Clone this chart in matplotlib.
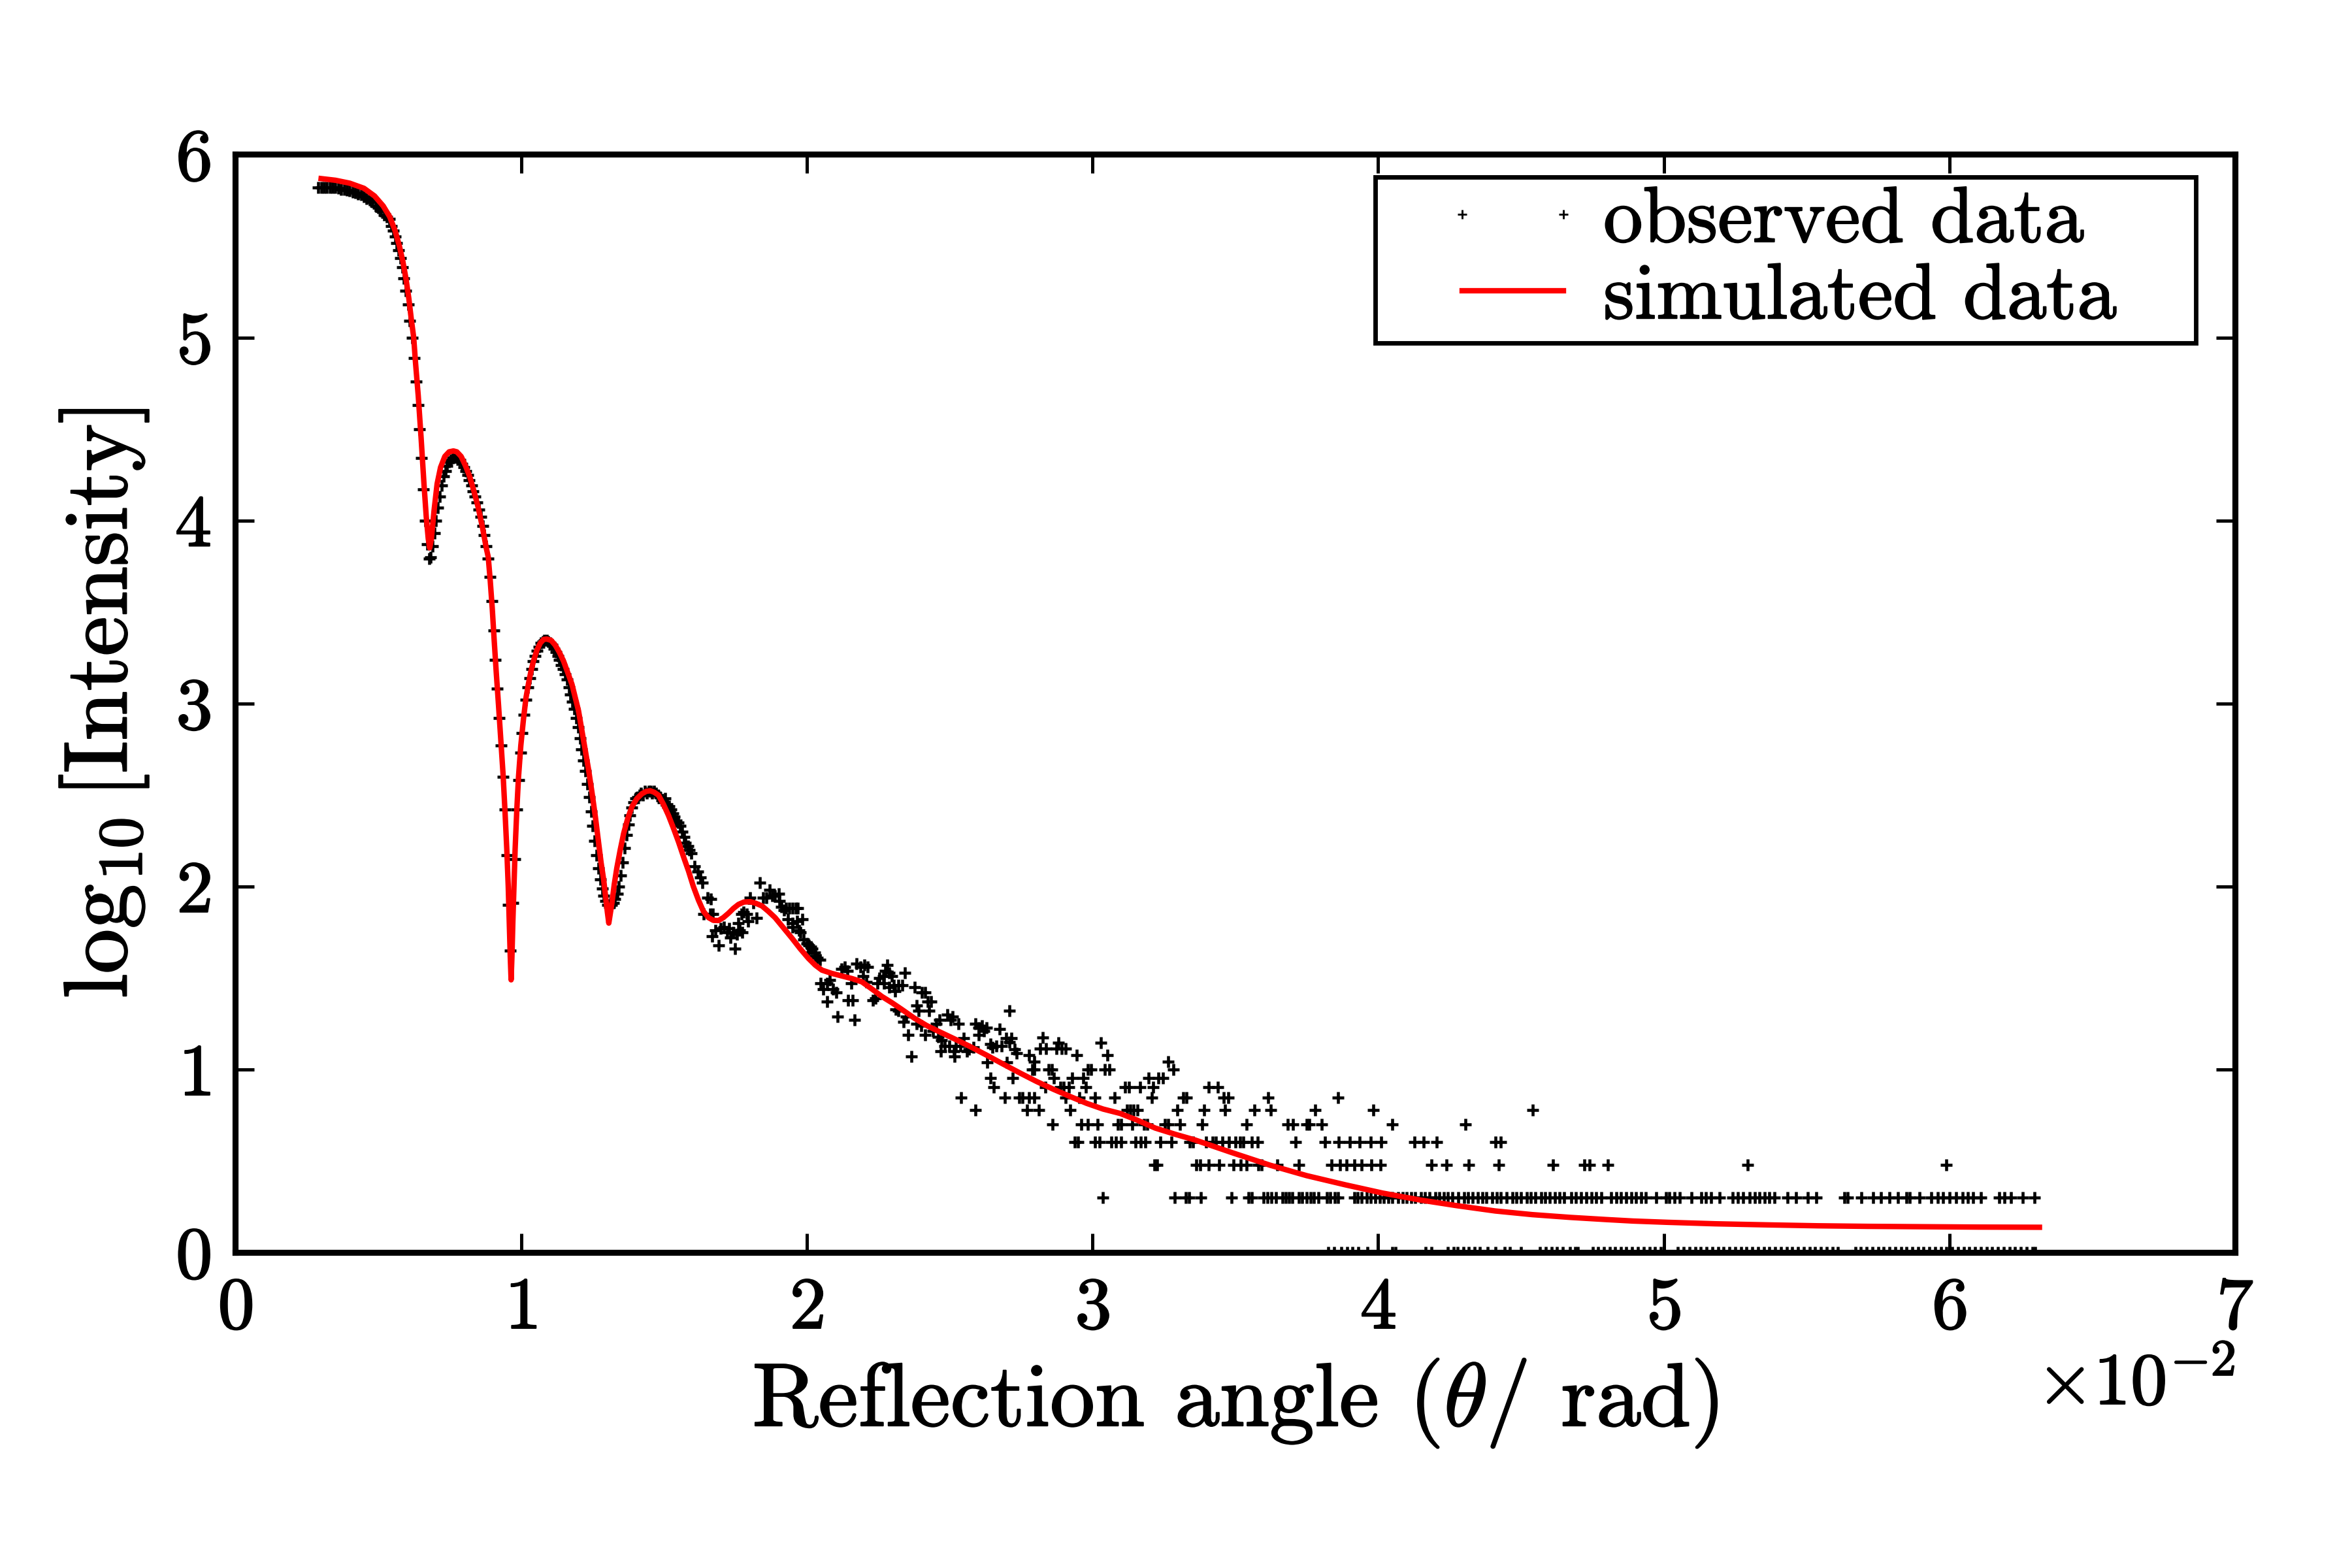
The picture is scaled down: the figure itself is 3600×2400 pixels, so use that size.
import numpy as np
import matplotlib
matplotlib.use('Agg')
import matplotlib.pyplot as plt
import matplotlib.patheffects as pe
from matplotlib.legend_handler import HandlerLine2D

plt.rcParams['font.family'] = 'cmr10'
plt.rcParams['mathtext.fontset'] = 'cm'
plt.rcParams['axes.formatter.use_mathtext'] = True
plt.rcParams['axes.unicode_minus'] = False

# ---------------- data (angle in units of 1e-2 rad) ----------------
# observed data, smooth part (log10 intensity)
obs_smooth_x = [0.29, 0.30, 0.31, 0.32, 0.33, 0.34, 0.35, 0.36, 0.37, 0.38, 0.39, 0.40, 0.41, 0.42,
                0.43, 0.44, 0.45, 0.46, 0.47, 0.48, 0.49, 0.50, 0.51, 0.52, 0.53, 0.540, 0.546, 0.553,
                0.559, 0.564, 0.571, 0.577, 0.584, 0.590, 0.597, 0.605, 0.610, 0.618, 0.625, 0.632,
                0.639, 0.645, 0.652, 0.658, 0.664, 0.671, 0.678, 0.684, 0.690, 0.696, 0.702, 0.709,
                0.715, 0.722, 0.728, 0.735, 0.741, 0.748, 0.754, 0.761, 0.767, 0.774, 0.780, 0.787,
                0.793, 0.800, 0.806, 0.813, 0.819, 0.826, 0.832, 0.839, 0.845, 0.852, 0.858, 0.865,
                0.871, 0.878, 0.884, 0.891, 0.897, 0.904, 0.910, 0.917, 0.924, 0.930, 0.937, 0.943,
                0.950, 0.956, 0.962, 0.972, 0.978, 0.985, 0.991, 0.998, 1.004, 1.011, 1.017, 1.024,
                1.030, 1.037, 1.043, 1.050, 1.056, 1.063, 1.069, 1.076, 1.082, 1.089, 1.095, 1.102,
                1.108, 1.115, 1.121, 1.128, 1.134, 1.141, 1.147, 1.154, 1.160, 1.167, 1.173, 1.180,
                1.186, 1.193, 1.199, 1.206, 1.212, 1.219, 1.225, 1.232, 1.238, 1.245, 1.251, 1.258,
                1.264, 1.271, 1.277, 1.284, 1.290, 1.297, 1.303, 1.310, 1.316, 1.323, 1.329, 1.336,
                1.342, 1.349, 1.355, 1.362, 1.368, 1.375, 1.381, 1.388, 1.394, 1.401, 1.407, 1.414,
                1.420, 1.427, 1.433, 1.440, 1.446, 1.453, 1.459, 1.466, 1.472, 1.479, 1.485, 1.492,
                1.498, 1.505, 1.511, 1.518, 1.524, 1.531, 1.537, 1.544, 1.550, 1.557, 1.563, 1.570,
                1.576, 1.583, 1.589]
obs_smooth_y = [5.82, 5.82, 5.82, 5.82, 5.82, 5.82, 5.82, 5.815, 5.81, 5.81, 5.805, 5.80, 5.795, 5.79,
                5.785, 5.78, 5.77, 5.76, 5.75, 5.74, 5.72, 5.71, 5.69, 5.67, 5.66, 5.648, 5.609, 5.582,
                5.551, 5.517, 5.478, 5.434, 5.384, 5.324, 5.255, 5.180, 5.092, 5.000, 4.889, 4.76,
                4.63, 4.50, 4.34, 4.17, 4.00, 3.87, 3.79, 3.80, 3.86, 3.93, 4.00, 4.07,
                4.13, 4.19, 4.24, 4.27, 4.30, 4.32, 4.33, 4.34, 4.345, 4.345, 4.34, 4.33,
                4.31, 4.29, 4.27, 4.25, 4.22, 4.19, 4.16, 4.13, 4.10, 4.06, 4.02, 3.97,
                3.92, 3.86, 3.79, 3.69, 3.56, 3.40, 3.24, 3.08, 2.92, 2.77, 2.60, 2.42,
                2.17, 1.90, 1.65, 1.91, 2.15, 2.42, 2.58, 2.73, 2.84, 2.94, 3.02, 3.09,
                3.14, 3.19, 3.23, 3.26, 3.29, 3.31, 3.33, 3.34, 3.345, 3.345, 3.34, 3.33,
                3.32, 3.30, 3.28, 3.26, 3.24, 3.21, 3.19, 3.16, 3.13, 3.09, 3.05, 3.01,
                2.97, 2.92, 2.87, 2.81, 2.75, 2.69, 2.63, 2.56, 2.49, 2.41, 2.33, 2.25,
                2.17, 2.10, 2.04, 1.99, 1.95, 1.92, 1.90, 1.89, 1.90, 1.91, 1.93, 1.96,
                2.00, 2.06, 2.13, 2.21, 2.28, 2.34, 2.39, 2.43, 2.46, 2.48, 2.49, 2.50,
                2.51, 2.50, 2.52, 2.51, 2.52, 2.52, 2.51, 2.52, 2.51, 2.50, 2.49, 2.47,
                2.46, 2.48, 2.45, 2.44, 2.42, 2.40, 2.38, 2.36, 2.35, 2.33, 2.30, 2.27,
                2.24, 2.22, 2.20]

# observed data, scattered middle part (log10 intensity)
obs_scatter_x = [1.596, 1.607, 1.619, 1.627, 1.634, 1.653, 1.665, 1.638, 1.661, 1.672, 1.668, 1.680,
                 1.691, 1.699, 1.710, 1.722, 1.729, 1.733, 1.741, 1.748, 1.756, 1.764, 1.775, 1.760,
                 1.771, 1.779, 1.790, 1.794, 1.802, 1.813, 1.825, 1.836, 1.848, 1.859, 1.870, 1.878,
                 1.889, 1.901, 1.905, 1.912, 1.920, 1.928, 1.939, 1.950, 1.962, 1.969, 1.935, 1.950,
                 1.966, 1.985, 1.950, 1.973, 1.977, 1.988, 2.000, 2.008, 2.015, 2.019, 2.027, 2.030,
                 2.038, 2.046, 2.004, 2.049, 2.057, 2.072, 2.080, 2.091, 2.103, 2.072, 2.107, 2.122,
                 2.133, 2.141, 2.156, 2.145, 2.160, 2.168, 2.175, 2.187, 2.202, 2.213, 2.198, 2.209,
                 2.232, 2.240, 2.248, 2.255, 2.267, 2.274, 2.282, 2.289, 2.297, 2.270, 2.289, 2.305,
                 2.320, 2.335, 2.343, 2.309, 2.312, 2.320, 2.339, 2.347, 2.354, 2.366, 2.377, 2.385,
                 2.392, 2.404, 2.415, 2.423, 2.427, 2.434, 2.385, 2.400, 2.415, 2.442, 2.453, 2.465,
                 2.461, 2.472, 2.491, 2.503, 2.510, 2.530, 2.469, 2.484, 2.499, 2.514, 2.522, 2.537,
                 2.549, 2.560, 2.568, 2.583, 2.518, 2.541, 2.590, 2.602, 2.613, 2.621, 2.602, 2.629,
                 2.644, 2.651, 2.663, 2.674, 2.682, 2.697, 2.709, 2.716, 2.728, 2.735, 2.709, 2.632,
                 2.644, 2.655, 2.693, 2.720, 2.701, 2.743, 2.754, 2.590]
obs_scatter_y = [2.18, 2.11, 2.08, 2.05, 2.02, 1.94, 1.93, 1.85, 1.85, 1.85, 1.73, 1.76,
                 1.68, 1.77, 1.78, 1.75, 1.77, 1.72, 1.75, 1.66, 1.74, 1.76, 1.75, 1.80,
                 1.85, 1.86, 1.85, 1.81, 1.94, 1.91, 1.83, 2.02, 1.94, 1.94, 1.98, 1.95,
                 1.95, 1.96, 1.92, 1.89, 1.87, 1.88, 1.88, 1.88, 1.88, 1.88, 1.82, 1.80,
                 1.81, 1.82, 1.78, 1.76, 1.75, 1.71, 1.69, 1.68, 1.67, 1.66, 1.64, 1.62,
                 1.61, 1.60, 1.64, 1.47, 1.44, 1.47, 1.49, 1.44, 1.42, 1.37, 1.29, 1.55,
                 1.56, 1.54, 1.47, 1.38, 1.38, 1.27, 1.58, 1.56, 1.57, 1.56, 1.51, 1.48,
                 1.38, 1.39, 1.47, 1.50, 1.51, 1.54, 1.57, 1.53, 1.51, 1.47, 1.45, 1.46,
                 1.46, 1.46, 1.53, 1.43, 1.33, 1.32, 1.26, 1.29, 1.19, 1.07, 1.45, 1.35,
                 1.32, 1.42, 1.42, 1.37, 1.32, 1.37, 1.25, 1.24, 1.19, 1.21, 1.25, 1.27,
                 1.18, 1.16, 1.30, 1.27, 1.29, 1.25, 1.10, 1.13, 1.13, 1.10, 1.13, 1.13,
                 1.17, 1.10, 1.11, 1.12, 1.07, 0.845, 1.25, 1.23, 1.24, 1.21, 1.19, 1.23,
                 1.14, 1.12, 1.13, 1.22, 1.13, 1.17, 1.15, 1.17, 1.11, 1.09, 1.32, 1.04,
                 0.954, 0.903, 0.845, 0.954, 1.04, 0.845, 0.845, 0.778]

# observed data, tail part: angles at which the detector counted n photons
tail_x_by_count = {
    1: [3.825, 3.845, 3.871, 3.891, 3.910, 3.930, 3.963, 4.049, 4.062, 4.167, 4.186, 4.245, 4.265,
        4.278, 4.298, 4.318, 4.337, 4.357, 4.383, 4.410, 4.442, 4.462, 4.501, 4.567, 4.587, 4.607,
        4.626, 4.646, 4.672, 4.690, 4.700, 4.751, 4.771, 4.790, 4.810, 4.830, 4.850, 4.869, 4.890,
        4.910, 4.930, 4.950, 4.970, 4.990, 5.050, 5.070, 5.090, 5.110, 5.130, 5.150, 5.170, 5.190,
        5.210, 5.230, 5.250, 5.270, 5.290, 5.310, 5.330, 5.350, 5.370, 5.390, 5.410, 5.430, 5.450,
        5.470, 5.490, 5.510, 5.530, 5.550, 5.570, 5.590, 5.610, 5.670, 5.690, 5.710, 5.730, 5.750,
        5.770, 5.790, 5.810, 5.830, 5.850, 5.870, 5.890, 5.910, 5.930, 5.950, 5.970, 5.990, 6.010,
        6.030, 6.050, 6.070, 6.090, 6.110, 6.130, 6.150, 6.170, 6.190, 6.210, 6.230, 6.250, 6.270,
        6.290, 6.300],
    2: [3.036, 3.288, 3.326, 3.338, 3.379, 3.486, 3.547, 3.558, 3.600, 3.612, 3.627, 3.642, 3.665,
        3.677, 3.688, 3.699, 3.722, 3.734, 3.749, 3.764, 3.776, 3.791, 3.821, 3.833, 3.848, 3.859,
        3.917, 3.928, 3.943, 3.960, 3.975, 3.990, 4.005, 4.020, 4.035, 4.050, 4.070, 4.085, 4.100,
        4.115, 4.130, 4.150, 4.165, 4.180, 4.200, 4.215, 4.230, 4.245, 4.260, 4.280, 4.300, 4.315,
        4.330, 4.350, 4.365, 4.380, 4.400, 4.415, 4.430, 4.450, 4.470, 4.485, 4.500, 4.520, 4.535,
        4.550, 4.570, 4.585, 4.600, 4.620, 4.635, 4.650, 4.676, 4.693, 4.711, 4.728, 4.746, 4.763,
        4.781, 4.816, 4.833, 4.851, 4.868, 4.886, 4.903, 4.921, 4.938, 4.973, 5.008, 5.020, 5.037,
        5.055, 5.096, 5.131, 5.148, 5.166, 5.195, 5.242, 5.259, 5.277, 5.300, 5.318, 5.335, 5.353,
        5.370, 5.388, 5.434, 5.463, 5.504, 5.533, 5.633, 5.644, 5.691, 5.732, 5.761, 5.790, 5.819,
        5.849, 5.860, 5.895, 5.936, 5.959, 5.977, 6.000, 6.024, 6.047, 6.064, 6.082, 6.111, 6.175,
        6.193, 6.216, 6.257, 6.298],
    3: [3.216, 3.227, 3.364, 3.376, 3.406, 3.444, 3.494, 3.520, 3.540, 3.581, 3.593, 3.646, 3.722,
        3.837, 3.867, 3.890, 3.917, 3.943, 3.976, 4.009, 4.186, 4.239, 4.318, 4.423, 4.613, 4.722,
        4.740, 4.804, 5.294, 5.989],
    4: [2.937, 2.949, 3.010, 3.025, 3.067, 3.082, 3.101, 3.151, 3.170, 3.185, 3.238, 3.277, 3.341,
        3.353, 3.398, 3.421, 3.433, 3.456, 3.478, 3.501, 3.517, 3.528, 3.558, 3.578, 3.711, 3.814,
        3.863, 3.901, 3.936, 3.975, 4.010, 4.127, 4.160, 4.206, 4.410, 4.429],
    5: [2.861, 2.960, 2.983, 3.017, 3.090, 3.101, 3.139, 3.181, 3.193, 3.254, 3.265, 3.307, 3.383,
        3.539, 3.684, 3.703, 3.749, 3.760, 3.802, 4.049, 4.305],
    6: [2.770, 2.812, 2.922, 3.120, 3.132, 3.143, 3.158, 3.296, 3.391, 3.463, 3.566, 3.623, 3.779,
        3.983, 4.541],
    7: [2.777, 2.796, 2.907, 2.953, 3.010, 3.078, 3.208, 3.318, 3.330, 3.459, 3.475, 3.616, 3.859],
    8: [2.835, 2.888, 2.899, 2.918, 2.976, 3.113, 3.128, 3.166, 3.212, 3.406, 3.440],
    9: [2.865, 2.930, 2.968, 3.197, 3.231, 3.246],
    10: [2.789, 2.796, 2.846, 2.857, 2.983, 2.995, 3.044, 3.059, 3.284],
    11: [2.796, 3.265],
    12: [2.777, 2.945, 3.052],
    13: [2.816, 2.838, 2.873, 2.892, 2.907],
    14: [2.880, 3.029],
    15: [2.827],
}

# simulated data (red line)
sim_x = [0.30, 0.35, 0.40, 0.45, 0.487, 0.517, 0.540, 0.559, 0.574, 0.586, 0.597, 0.607, 0.616, 0.624,
         0.630, 0.640, 0.650, 0.660, 0.668, 0.675, 0.680, 0.686, 0.695, 0.706, 0.718, 0.733, 0.748,
         0.763, 0.775, 0.790, 0.805, 0.820, 0.835, 0.850, 0.865, 0.878, 0.885, 0.892, 0.899, 0.906,
         0.913, 0.921, 0.929, 0.937, 0.944, 0.950, 0.955, 0.959, 0.962, 0.965, 0.968, 0.971, 0.975,
         0.979, 0.985, 0.991, 0.999, 1.008, 1.017, 1.026, 1.035, 1.043, 1.055, 1.067, 1.079, 1.090,
         1.105, 1.119, 1.134, 1.149, 1.163, 1.178, 1.190, 1.201, 1.212, 1.224, 1.236, 1.248, 1.260,
         1.271, 1.280, 1.289, 1.296, 1.302, 1.307, 1.312, 1.318, 1.326, 1.335, 1.347, 1.359, 1.373,
         1.388, 1.405, 1.423, 1.438, 1.452, 1.466, 1.481, 1.498, 1.516, 1.533, 1.551, 1.568, 1.586,
         1.603, 1.621, 1.638, 1.656, 1.673, 1.691, 1.708, 1.726, 1.743, 1.761, 1.780, 1.802, 1.822,
         1.843, 1.865, 1.889, 1.918, 1.948, 1.977, 2.006, 2.030, 2.053, 2.088, 2.123, 2.158, 2.193,
         2.228, 2.263, 2.298, 2.333, 2.377, 2.420, 2.466, 2.520, 2.571, 2.630, 2.687, 2.745, 2.804,
         2.862, 2.921, 2.980, 3.037, 3.097, 3.154, 3.220, 3.292, 3.359, 3.490, 3.622, 3.750, 3.885,
         4.015, 4.147, 4.280, 4.410, 4.540, 4.672, 4.800, 4.893, 5.014, 5.180, 5.364, 5.540, 5.714,
         5.900, 6.100, 6.315]
sim_y = [5.868, 5.859, 5.843, 5.815, 5.773, 5.719, 5.660, 5.583, 5.499, 5.416, 5.321, 5.213, 5.095, 5.000,
         4.87, 4.68, 4.45, 4.20, 4.02, 3.90, 3.85, 3.90, 4.05, 4.20, 4.29, 4.35, 4.375,
         4.38, 4.375, 4.35, 4.30, 4.24, 4.16, 4.07, 3.96, 3.85, 3.80, 3.67, 3.52, 3.34,
         3.17, 2.99, 2.80, 2.61, 2.40, 2.20, 2.00, 1.78, 1.62, 1.49, 1.62, 1.80, 2.00,
         2.20, 2.42, 2.60, 2.77, 2.91, 3.03, 3.11, 3.18, 3.23, 3.29, 3.33, 3.35, 3.352,
         3.345, 3.32, 3.28, 3.23, 3.17, 3.105, 3.03, 2.96, 2.86, 2.75, 2.64, 2.515, 2.38,
         2.244, 2.13, 2.037, 1.94, 1.86, 1.80, 1.85, 1.91, 2.01, 2.10, 2.20, 2.29, 2.37,
         2.436, 2.48, 2.507, 2.52, 2.523, 2.515, 2.499, 2.45, 2.388, 2.32, 2.244, 2.165, 2.085,
         2.00, 1.925, 1.865, 1.830, 1.815, 1.814, 1.83, 1.854, 1.88, 1.902, 1.915, 1.917, 1.908,
         1.894, 1.865, 1.830, 1.775, 1.718, 1.66, 1.607, 1.57, 1.543, 1.525, 1.511, 1.497, 1.479,
         1.44, 1.399, 1.365, 1.328, 1.280, 1.24, 1.205, 1.165, 1.126, 1.078, 1.030, 0.982, 0.935,
         0.893, 0.853, 0.815, 0.784, 0.76, 0.725, 0.68, 0.645, 0.615, 0.545, 0.477, 0.42, 0.37,
         0.325, 0.287, 0.255, 0.227, 0.207, 0.192, 0.18, 0.172, 0.165, 0.157, 0.151, 0.146, 0.143,
         0.141, 0.139, 0.138]

x_ticks = [0, 1, 2, 3, 4, 5, 6, 7]
y_ticks = [0, 1, 2, 3, 4, 5, 6]

# ---------------- assemble observed data ----------------
tail_x, tail_y = [], []
for n, xs in tail_x_by_count.items():
    tail_x += xs
    tail_y += [np.log10(n)] * len(xs)

obs_x = np.concatenate([obs_smooth_x, obs_scatter_x, tail_x]) * 1e-2
obs_y = np.concatenate([obs_smooth_y, obs_scatter_y, tail_y])

# ---------------- figure ----------------
fig = plt.figure(figsize=(12, 8), dpi=300)
ax = fig.add_axes([0.1001, 0.2012, 0.8502, 0.7003])

ax.plot(obs_x, obs_y, linestyle='none', marker='+', color='black',
        markersize=4.5, markeredgewidth=1.1, label='observed data')
ax.plot(np.array(sim_x) * 1e-2, sim_y, color='red', linewidth=2.0, label='simulated data')

ax.set_xlim(0, 0.07)
ax.set_ylim(0, 6)
ax.set_xticks(np.array(x_ticks) * 1e-2)
ax.set_yticks(y_ticks)
ax.ticklabel_format(axis='x', style='sci', scilimits=(0, 0), useMathText=True)

ax.tick_params(direction='in', length=7, width=1.2, top=True, right=True,
               labelsize=27, pad=9)
for s in ax.spines.values():
    s.set_linewidth(2.2)
ax.xaxis.get_offset_text().set_fontsize(27)

ax.set_xlabel(r'Reflection angle ($\theta$/ rad)', fontsize=33, labelpad=5)
ax.set_ylabel(r'$\log_{10}[\mathrm{Intensity}]$', fontsize=33, labelpad=9)

hmap = {}
for ln in ax.get_lines():
    hmap[ln] = HandlerLine2D(numpoints=2, marker_pad=0.03, xpad=0.95)
leg = ax.legend(loc='upper left', bbox_to_anchor=(0.570, 0.0, 0.4104, 0.9795),
                mode='expand', borderaxespad=0, fontsize=29, fancybox=False,
                borderpad=0.12, labelspacing=0.08, handlelength=2.29,
                handletextpad=0.48, handler_map=hmap, framealpha=1)
leg.get_frame().set_edgecolor('black')
leg.get_frame().set_linewidth(1.65)
leg.legend_handles[0].set_markeredgewidth(0.7)
leg.legend_handles[0].set_markersize(3.2)

# slightly heavier glyphs, as in the TeX-rendered original
bold = [pe.withStroke(linewidth=0.5, foreground='black')]
texts = (ax.get_xticklabels() + ax.get_yticklabels() + leg.get_texts()
         + [ax.xaxis.label, ax.yaxis.label, ax.xaxis.get_offset_text()])
for t in texts:
    t.set_path_effects(bold)

fig.savefig('out.png', dpi=300)
